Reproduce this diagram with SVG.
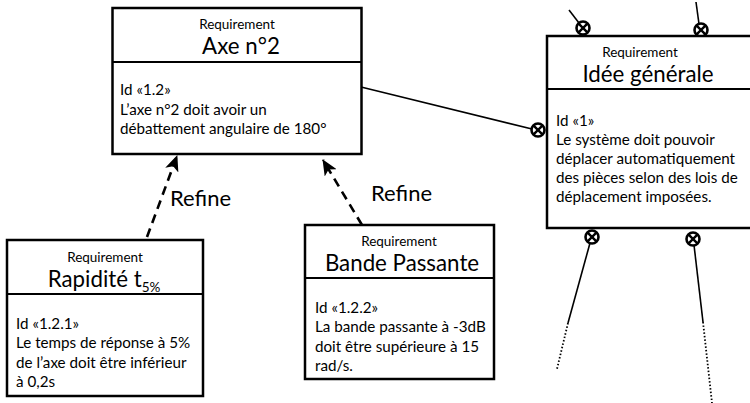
<svg xmlns="http://www.w3.org/2000/svg" width="750" height="403" viewBox="0 0 750 403">
  <style>
    .box { fill: #ffffff; stroke: #000000; stroke-width: 2.5; }
    .div { stroke: #000000; stroke-width: 2; }
    .st { font-family: Lato, "Liberation Sans", sans-serif; font-size: 13.5px; fill: #000; text-anchor: middle; }
    .ti { font-family: Lato, "Liberation Sans", sans-serif; font-size: 22.3px; fill: #000; text-anchor: middle; }
    .bd { font-family: Lato, "Liberation Sans", sans-serif; font-size: 15.2px; fill: #000; }
    .lbl { font-family: Lato, "Liberation Sans", sans-serif; font-size: 22px; fill: #000; }
    .refine { fill: none; stroke: #000; stroke-width: 2.6; stroke-dasharray: 9 6; }
    .link { fill: none; stroke: #000; stroke-width: 1.6; }
    .dots { fill: none; stroke: #000; stroke-width: 1.8; stroke-dasharray: 1.5 2; }
    .cx { fill: #fff; stroke: #000; stroke-width: 2.6; }
  </style>
  <defs>
    <marker id="head" viewBox="0 0 16 14" refX="15" refY="7" markerWidth="16" markerHeight="14" markerUnits="userSpaceOnUse" orient="auto">
      <path d="M0,0 L16,7 L0,14 L4,7 Z" fill="#000"/>
    </marker>
    <g id="cross">
      <circle r="6.5" class="cx"/>
      <path d="M-4.4,-4.4 L4.4,4.4 M4.4,-4.4 L-4.4,4.4" stroke="#000" stroke-width="2.4"/>
    </g>
  </defs>

  <g id="connectors">
    <!-- refine relations -->
    <line class="refine" x1="147" y1="237" x2="177" y2="156" marker-end="url(#head)"/>
    <line class="refine" x1="362" y1="225" x2="323" y2="160" marker-end="url(#head)"/>
    <text class="lbl" x="170" y="206">Refine</text>
    <text class="lbl" x="371" y="201">Refine</text>
    <!-- containment links to the general requirement -->
    <line class="link" x1="361" y1="87" x2="532" y2="129"/>
    <line class="link" x1="569" y1="10" x2="579" y2="23"/>
    <line class="link" x1="696" y1="2" x2="699" y2="24"/>
    <line class="link" x1="590" y1="243" x2="568" y2="323"/>
    <line class="dots" x1="568" y1="323" x2="557" y2="369"/>
    <line class="link" x1="694" y1="245" x2="703" y2="322"/>
    <line class="dots" x1="703" y1="322" x2="712" y2="403"/>
    <use href="#cross" x="538" y="130"/>
    <use href="#cross" x="583" y="28"/>
    <use href="#cross" x="701" y="30"/>
    <use href="#cross" x="592" y="237"/>
    <use href="#cross" x="693" y="239"/>
  </g>

  <g id="axe-n2">
    <rect class="box" x="112.5" y="8" width="249" height="146"/>
    <line class="div" x1="112.5" y1="62" x2="361.5" y2="62"/>
    <text class="st" x="237" y="28.5">Requirement</text>
    <text class="ti" x="241" y="53.5">Axe n°2</text>
    <text class="bd" x="120" y="95">Id «1.2»</text>
    <text class="bd" x="120" y="115">L’axe n°2 doit avoir un</text>
    <text class="bd" x="120" y="134">débattement angulaire de 180°</text>
  </g>

  <g id="idee-generale">
    <rect class="box" x="547" y="36" width="210" height="192"/>
    <line class="div" x1="547" y1="89" x2="750" y2="89"/>
    <text class="st" x="640" y="56.5">Requirement</text>
    <text class="ti" x="648" y="81.5">Idée générale</text>
    <text class="bd" x="556" y="126">Id «1»</text>
    <text class="bd" x="556" y="145">Le système doit pouvoir</text>
    <text class="bd" x="556" y="164">déplacer automatiquement</text>
    <text class="bd" x="556" y="183">des pièces selon des lois de</text>
    <text class="bd" x="556" y="202">déplacement imposées.</text>
  </g>

  <g id="rapidite">
    <rect class="box" x="7" y="240" width="196" height="156"/>
    <line class="div" x1="7" y1="294" x2="203" y2="294"/>
    <text class="st" x="105" y="261.5">Requirement</text>
    <text class="ti" x="104" y="286.5">Rapidité t<tspan font-size="13.5" dy="5">5%</tspan></text>
    <text class="bd" x="16" y="329">Id «1.2.1»</text>
    <text class="bd" x="16" y="348">Le temps de réponse à 5%</text>
    <text class="bd" x="16" y="368">de l’axe doit être inférieur</text>
    <text class="bd" x="16" y="387">à 0,2s</text>
  </g>

  <g id="bande-passante">
    <rect class="box" x="305" y="225" width="189" height="154"/>
    <line class="div" x1="305" y1="278" x2="494" y2="278"/>
    <text class="st" x="399" y="245.5">Requirement</text>
    <text class="ti" x="402" y="270.5">Bande Passante</text>
    <text class="bd" x="315" y="313">Id «1.2.2»</text>
    <text class="bd" x="315" y="332">La bande passante à -3dB</text>
    <text class="bd" x="315" y="352">doit être supérieure à 15</text>
    <text class="bd" x="315" y="371">rad/s.</text>
  </g>
</svg>
